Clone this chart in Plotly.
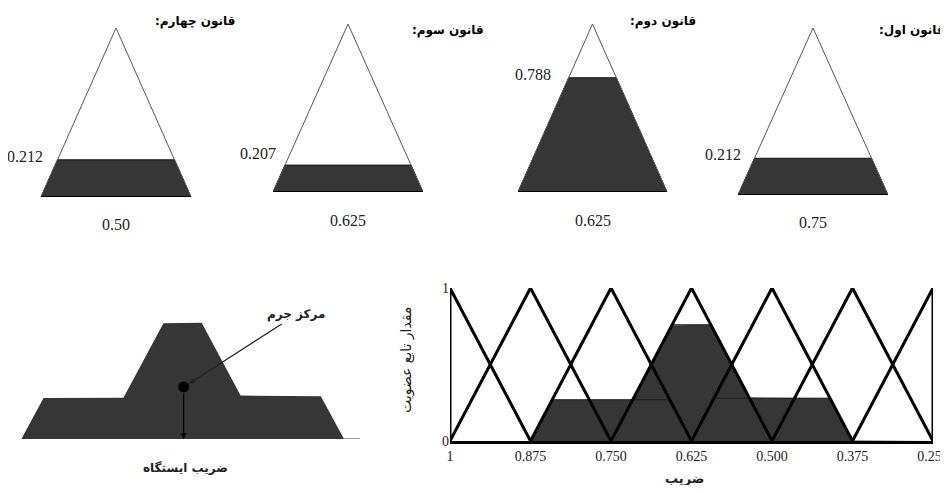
import numpy as np
import plotly.graph_objects as go

# the page body has an 8px margin: keep the figure inside the 948x493 window so no scrollbars appear
OFF = 8
W, H = 948 - OFF, 493 - 2 * OFF

# output fuzzy sets of the "ضریب" variable (tick labels of bottom-right chart)
centers = [1, 0.875, 0.75, 0.625, 0.5, 0.375, 0.25]
center_labels = ["1", "0.875", "0.750", "0.625", "0.500", "0.375", "0.250"]
half_width = 0.125

# four rules (drawn left -> right): title, set center, firing level label, drawn level
rule_titles = ["قانون چهارم:", "قانون سوم:", "قانون دوم:", "قانون اول:"]
rule_centers = [0.50, 0.625, 0.625, 0.75]
rule_center_text = ["0.50", "0.625", "0.625", "0.75"]
rule_level_text = ["0.212", "0.207", "0.788", "0.212"]
rule_levels = [0.22, 0.16, 0.68, 0.22]

# aggregated (clipped) sets shown in the bottom charts
agg_centers = [0.75, 0.625, 0.5]
agg_levels = [0.27, 0.76, 0.28]
cog_y = 0.34

DARK = "#363636"
SERIF = "Liberation Serif"
FA = "DejaVu Sans"
RLM = "\u200f"


def fx(p):
    return (p - OFF) / W


def fy(p):
    return 1 - (p - OFF) / H


def tri(x, c):
    return np.maximum(0, 1 - np.abs(x - c) / half_width)


fig = go.Figure()

# ---- bottom right: membership functions + aggregated output
xs = np.linspace(0.25, 1, 1501)
agg = np.max([np.minimum(tri(xs, c), l) for c, l in zip(agg_centers, agg_levels)], axis=0)
fig.add_trace(go.Scatter(x=xs, y=agg, fill="tozeroy", fillcolor=DARK, mode="lines",
                         line=dict(width=0), xaxis="x", yaxis="y", hoverinfo="skip"))
for c, l in zip(agg_centers, agg_levels):
    tx = [c + half_width, c + half_width * (1 - l), c - half_width * (1 - l), c - half_width]
    fig.add_trace(go.Scatter(x=tx, y=[0, l, l, 0], mode="lines", line=dict(color="#1e1e1e", width=1),
                             xaxis="x", yaxis="y", hoverinfo="skip"))
for c in centers:
    tx = np.clip([c + half_width, c, c - half_width], 0.25, 1)
    fig.add_trace(go.Scatter(x=tx, y=[0, 1, 0], mode="lines", line=dict(color="black", width=3),
                             xaxis="x", yaxis="y", hoverinfo="skip"))

# ---- bottom left: defuzzification (centre of gravity)
fig.add_trace(go.Scatter(x=xs, y=agg, fill="tozeroy", fillcolor=DARK, mode="lines",
                         line=dict(width=0), xaxis="x2", yaxis="y2", hoverinfo="skip"))
cog_x = float(np.sum(xs * agg) / np.sum(agg))
fig.add_trace(go.Scatter(x=[cog_x], y=[cog_y], mode="markers",
                         marker=dict(color="black", size=11, symbol="circle"),
                         xaxis="x2", yaxis="y2", hoverinfo="skip"))

# ---- top: the four rules
rule_px = [(41, 191, 197, 28), (273, 423, 192, 24), (518, 667, 192, 24), (738, 888, 195, 28)]
label_gap = [13, 7, 16, 12]
label_lift = [3, 12, 3, 4]
annotations = []
layout_axes = {}
for i, (title, c, ctext, ltext, lvl) in enumerate(zip(rule_titles, rule_centers, rule_center_text,
                                                       rule_level_text, rule_levels)):
    n = i + 3
    xa, ya = f"x{n}", f"y{n}"
    x0, x1, yb, yt = rule_px[i]
    layout_axes[f"xaxis{n}"] = dict(domain=[fx(x0), fx(x1)], range=[c - half_width, c + half_width],
                                    visible=False, anchor=ya)
    layout_axes[f"yaxis{n}"] = dict(domain=[fy(yb), fy(yt)], range=[0, 1], visible=False, anchor=xa)
    lx = [c - half_width, c - half_width * (1 - lvl), c + half_width * (1 - lvl), c + half_width]
    fig.add_trace(go.Scatter(x=lx, y=[0, lvl, lvl, 0], fill="toself", fillcolor=DARK, mode="lines",
                             line=dict(color="#111", width=1), xaxis=xa, yaxis=ya, hoverinfo="skip"))
    fig.add_trace(go.Scatter(x=[c - half_width, c, c + half_width], y=[0, 1, 0], mode="lines",
                             line=dict(color="#555", width=1), xaxis=xa, yaxis=ya, hoverinfo="skip"))
    fig.add_trace(go.Scatter(x=[c - half_width, c + half_width], y=[0, 0], mode="lines",
                             line=dict(color="black", width=2), xaxis=xa, yaxis=ya, hoverinfo="skip"))
    annotations.append(dict(x=lx[1], y=lvl, xref=xa, yref=ya, text=ltext, showarrow=False,
                            xanchor="right", yanchor="middle", xshift=-label_gap[i], yshift=label_lift[i],
                            font=dict(family=SERIF, size=16, color="#222")))
    annotations.append(dict(x=c, y=0, xref=xa, yref=ya, text=ctext, showarrow=False,
                            xanchor="center", yanchor="middle", yshift=-28,
                            font=dict(family=SERIF, size=16, color="#222")))

title_pos = [(195, 22), (448, 31), (663, 21), (912, 31)]
for t, (px_, py_) in zip(rule_titles, title_pos):
    annotations.append(dict(x=fx(px_), y=fy(py_), xref="paper", yref="paper", text=t + RLM,
                            showarrow=False, xanchor="center", yanchor="middle",
                            font=dict(family=FA, size=12, color="black", weight="bold")))

# axis titles and bottom-left labels
annotations += [
    dict(x=fx(406), y=fy(360), xref="paper", yref="paper", text="مقدار تابع عضویت", textangle=-90,
         showarrow=False, xanchor="center", yanchor="middle",
         font=dict(family=FA, size=14, color="#222")),
    dict(x=fx(684), y=fy(478), xref="paper", yref="paper", text="ضریب", showarrow=False,
         xanchor="center", yanchor="middle",
         font=dict(family=FA, size=13, color="#222", weight="bold")),
    dict(x=fx(185), y=fy(468), xref="paper", yref="paper", text="ضریب ایستگاه", showarrow=False,
         xanchor="center", yanchor="middle",
         font=dict(family=FA, size=12, color="#222", weight="bold")),
    dict(x=cog_x, y=cog_y, xref="x2", yref="y2", text="مرکز جرم", showarrow=True,
         ax=112, ay=-72, arrowhead=2, arrowsize=1, arrowwidth=1.2, arrowcolor="#222", standoff=6,
         font=dict(family=FA, size=12, color="#222", weight="bold")),
    dict(x=cog_x, y=0, xref="x2", yref="y2", text="", showarrow=True,
         ax=0, ay=-52, arrowhead=2, arrowsize=1, arrowwidth=1.2, arrowcolor="black", startstandoff=5),
]

fig.update_layout(
    width=W, height=H, margin=dict(l=0, r=0, t=0, b=0, pad=0, autoexpand=False),
    paper_bgcolor="white", plot_bgcolor="rgba(0,0,0,0)", showlegend=False,
    xaxis=dict(domain=[fx(450), fx(933)], range=[1, 0.25], tickvals=centers, ticktext=center_labels,
               showgrid=False, zeroline=False, showline=True, linecolor="black", linewidth=3,
               ticks="", ticklabeloverflow="allow", automargin=False,
               tickfont=dict(family=SERIF, size=14, color="#222"), anchor="y"),
    yaxis=dict(domain=[fy(441), fy(288)], range=[0, 1], tickvals=[0, 1], ticktext=["0", "1"],
               showgrid=False, zeroline=False, showline=False, ticks="", automargin=False,
               tickfont=dict(family=SERIF, size=14, color="#222"), anchor="x"),
    xaxis2=dict(domain=[fx(8), fx(360)], range=[0.875 + 14 / 644, 0.875 - 338 / 644], visible=False,
                anchor="y2"),
    yaxis2=dict(domain=[fy(439), fy(286)], range=[0, 1], visible=False, anchor="x2"),
    annotations=annotations,
    **layout_axes,
)

fig.write_html("out.html")
